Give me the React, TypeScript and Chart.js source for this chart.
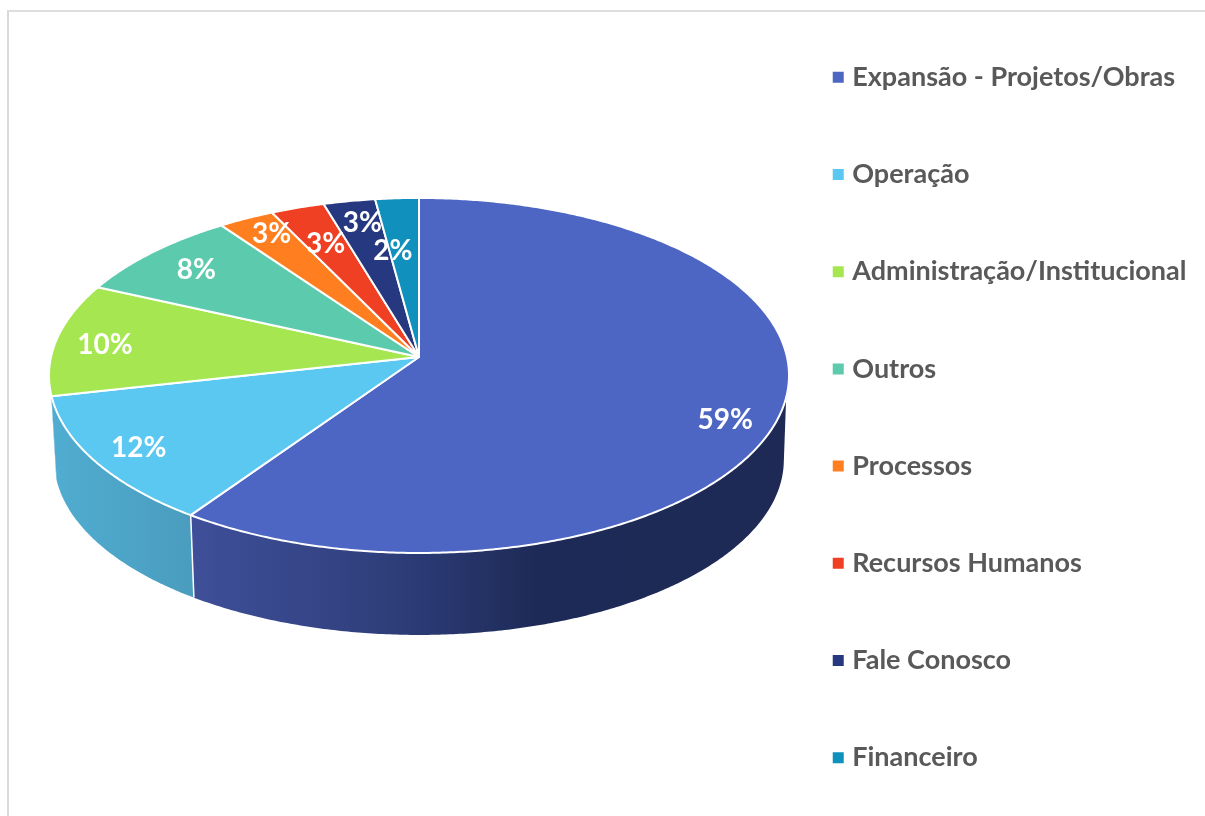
import React, { useEffect, useRef } from "react";
import { Chart, registerables } from "chart.js";

Chart.register(...registerables);

const categories = [
  "Expansão - Projetos/Obras",
  "Operação",
  "Administração/Institucional",
  "Outros",
  "Processos",
  "Recursos Humanos",
  "Fale Conosco",
  "Financeiro",
];
const shares = [59.6, 11.9, 10.3, 8.3, 2.7, 2.6, 2.5, 2.1];
const percentLabels = ["59%", "12%", "10%", "8%", "3%", "3%", "3%", "2%"];
const sliceColors = ["#4d66c4", "#5ac8f0", "#a6e751", "#5ccbad", "#ff7e20", "#ef4023", "#26387f", "#0f90bd"];
const labelRadial = [0.871, 0.87, 0.864, 0.833, 0.882, 0.752, 0.859, 0.661];
const labelTurn = [5.5, 0.3, -0.6, 0.5, 1.4, 0, 0.8, -2.8];

const FONT = "Lato, Carlito, Calibri, sans-serif";
const G = { cx: 419, cy: 357, bx: 368, by: 175.6, k: -0.104, drop: 84.7, bottomScale: 0.986 };
const WALL_RIM_FROM = (103 * Math.PI) / 180;
const WALL_BASE_FROM = (97 * Math.PI) / 180;
const WALL_END = (258 * Math.PI) / 180;
const RAD = (d: number) => (d * Math.PI) / 180;

function project(theta: number, f = 1): [number, number] {
  const u = Math.sin(theta) * f;
  const v = -Math.cos(theta) * f;
  const den = 1 + G.k * v;
  return [G.cx + (G.bx * u) / den, G.cy + (G.by * v) / den];
}
function projectBase(theta: number): [number, number] {
  const [x, y] = project(theta);
  return [G.cx + (x - G.cx) * G.bottomScale, G.cy + G.drop + (y - G.cy) * G.bottomScale];
}
function sample(a: number, b: number, fn: (t: number) => [number, number]) {
  const n = Math.max(2, Math.ceil(Math.abs(b - a) / RAD(0.5)));
  const pts: [number, number][] = [];
  for (let i = 0; i <= n; i++) pts.push(fn(a + ((b - a) * i) / n));
  return pts;
}

const pie3d = {
  id: "pie3d",
  beforeDatasetDraw(chart: any) {
    const ctx = chart.ctx as CanvasRenderingContext2D;
    const arcs = chart.getDatasetMeta(0).data as any[];
    const turn = (el: any) => [el.startAngle + Math.PI / 2, el.endAngle + Math.PI / 2];
    ctx.save();
    ctx.lineJoin = "round";
    // side wall
    arcs.forEach((el, i) => {
      const [s, e] = turn(el);
      if (e <= WALL_RIM_FROM || s >= WALL_END) return;
      const rimA = Math.max(s, WALL_RIM_FROM);
      const rimB = Math.min(e, WALL_END);
      const baseA = s <= WALL_RIM_FROM ? WALL_BASE_FROM : rimA;
      const baseB = e >= WALL_END ? WALL_END : rimB;
      const rim = sample(rimA, rimB, (t) => project(t));
      const base = sample(baseB, baseA, projectBase);
      ctx.beginPath();
      rim.concat(base).forEach(([x, y], j) => (j ? ctx.lineTo(x, y) : ctx.moveTo(x, y)));
      ctx.closePath();
      const grad = ctx.createLinearGradient(50, 0, 790, 0);
      if (i === 0) {
        grad.addColorStop(0.19, "#3f4f99");
        grad.addColorStop(0.45, "#2f3f7c");
        grad.addColorStop(0.66, "#1d2a57");
        grad.addColorStop(1, "#1e2a55");
      } else {
        grad.addColorStop(0, "#50add1");
        grad.addColorStop(0.19, "#4a9dbe");
      }
      ctx.fillStyle = grad;
      ctx.fill();
    });
    // white joint between the two visible wall pieces
    const joint = arcs[0].endAngle + Math.PI / 2;
    const [jx0, jy0] = project(joint);
    const [jx1, jy1] = projectBase(joint);
    ctx.strokeStyle = "#ffffff";
    ctx.lineWidth = 1.5;
    ctx.beginPath();
    ctx.moveTo(jx0, jy0);
    ctx.lineTo(jx1, jy1);
    ctx.stroke();
    // top face
    arcs.forEach((el, i) => {
      const [s, e] = turn(el);
      const rim = sample(s, e, (t) => project(t));
      ctx.beginPath();
      ctx.moveTo(G.cx, G.cy);
      rim.forEach(([x, y]) => ctx.lineTo(x, y));
      ctx.closePath();
      ctx.fillStyle = sliceColors[i];
      ctx.fill();
      ctx.strokeStyle = "#ffffff";
      ctx.lineWidth = 2;
      ctx.stroke();
    });
    ctx.restore();
    return false;
  },
  afterDatasetsDraw(chart: any) {
    const ctx = chart.ctx as CanvasRenderingContext2D;
    const arcs = chart.getDatasetMeta(0).data as any[];
    ctx.save();
    ctx.font = `700 28px ${FONT}`;
    ctx.fillStyle = "#ffffff";
    ctx.textAlign = "center";
    ctx.textBaseline = "middle";
    arcs.forEach((el, i) => {
      const mid = (el.startAngle + el.endAngle) / 2 + Math.PI / 2 + RAD(labelTurn[i]);
      const [x, y] = project(mid, labelRadial[i]);
      ctx.fillText(percentLabels[i], x, y + 2);
    });
    ctx.restore();
  },
};

export default function App() {
  const ref = useRef<HTMLCanvasElement>(null);
  useEffect(() => {
    if (!ref.current) return;
    const chart = new Chart(ref.current, {
      type: "pie",
      data: {
        labels: categories,
        datasets: [{ data: shares, backgroundColor: sliceColors, borderWidth: 0 }],
      },
      plugins: [pie3d],
      options: {
        responsive: false,
        animation: false,
        events: [],
        layout: { padding: { top: -24, left: 16, right: 8.5, bottom: -43 } },
        plugins: {
          tooltip: { enabled: false },
          title: { display: false },
          legend: {
            position: "right",
            labels: {
              font: { family: FONT, size: 27, weight: "700" },
              color: "#595959",
              boxWidth: 1,
              boxHeight: 1,
              padding: 70.2,
              generateLabels: () =>
                categories.map((text, i) => ({
                  text,
                  fillStyle: sliceColors[i],
                  strokeStyle: sliceColors[i],
                  fontColor: "#595959",
                  lineWidth: 10,
                  hidden: false,
                  index: i,
                  datasetIndex: 0,
                })),
            },
          },
        },
      } as any,
    });
    return () => chart.destroy();
  }, []);
  return (
    <div style={{ position: "absolute", left: 0, top: 0, width: 1205, height: 816, overflow: "hidden", background: "#fff" }}>
      <div
        style={{
          position: "absolute",
          left: 7,
          top: 10,
          width: 1198,
          height: 806,
          boxSizing: "border-box",
          borderLeft: "2px solid #d9d9d9",
          borderTop: "2px solid #dedede",
        }}
      />
      <canvas ref={ref} width={1205} height={816} style={{ position: "absolute", left: 0, top: 0, display: "block" }} />
    </div>
  );
}
